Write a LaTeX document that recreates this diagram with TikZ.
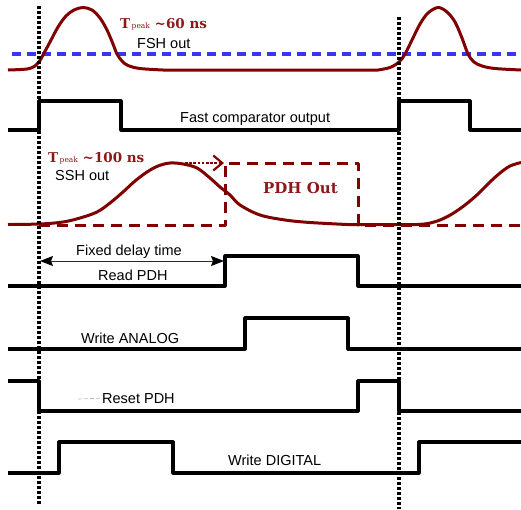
\documentclass[tikz,border=0pt]{standalone}
\usepackage{fontspec}
\setmainfont{Liberation Sans}
\newfontfamily\peakfont{DejaVu Serif}
\usepackage{xcolor}
\usetikzlibrary{arrows.meta}

\definecolor{pulsered}{RGB}{128,0,0}
\definecolor{labelred}{RGB}{140,25,25}
\definecolor{threshblue}{RGB}{55,55,240}

\newcommand{\tpeak}[1]{T\kern1.5pt{\mdseries\fontsize{7.5}{8}\selectfont peak}\ \textasciitilde#1 ns}

\begin{document}
\begin{tikzpicture}[x=1pt, y=-1pt,
  wave/.style={line width=3.1pt, line join=round},
  analog/.style={line width=3pt, pulsered, line join=round},
  marker/.style={line width=3.2pt, dash pattern=on 3pt off 2pt},
  lbl/.style={font=\fontsize{14.5}{16}\selectfont, inner sep=0pt, anchor=base west},
  tlbl/.style={font=\peakfont\bfseries\fontsize{13.5}{15}\selectfont, text=labelred, inner sep=0pt, anchor=base west}]

  \useasboundingbox (0,0) rectangle (521,509);

  % threshold of the fast shaper
  \draw[threshblue, line width=3.2pt, dash pattern=on 9pt off 6pt] (12,54) -- (521,54);

  % FSH out
  \draw[analog] plot[smooth, tension=0.55] coordinates {(8,70) (27,69) (35,66) (39,62) (43,55)
    (50,42) (58,27) (66,16) (74,10) (83,7.5) (92,10) (100,18) (107,30) (113,44) (117,54)
    (122,61) (128,65.5) (140,68.5) (163,70)}
    -- plot[smooth, tension=0.55] coordinates {(378,70) (390,67.5) (399,62) (405,54)
    (412,40) (420,24) (428,13) (438,7.5) (447,12) (455,22) (462,38) (468,54) (474,62)
    (482,66) (495,68.5) (521,70)};

  % fast comparator output
  \draw[wave] (8,130) -- (39,130) -- (39,101) -- (121,101) -- (121,130) -- (399,130)
    -- (399,101) -- (470,101) -- (470,130) -- (521,130);

  % SSH out and PDH out
  \draw[analog] plot[smooth, tension=0.55] coordinates {(8,224.5) (40,224) (63,222) (80,218)
    (97,212) (110,203) (123,192) (135,181) (147,172) (158,166) (170,163) (183,164)
    (197,168) (210,178) (220,187) (230,195) (240,205) (260,215) (285,220) (310,222.5)
    (347,224.5)}
    -- plot[smooth, tension=0.55] coordinates {(417,224.5) (428,223.5) (440,220) (452,214)
    (465,205) (478,194) (490,182) (500,173) (510,166) (521,162.5)};
  \draw[analog, dash pattern=on 11pt off 7pt] (39,225) -- (225,225) -- (225,163)
    -- (358,163) -- (358,225) -- (521,225);
  \coordinate (ssh top) at (185,163);
  \coordinate (pdh corner) at (224,163);
  \draw[pulsered, line width=2.8pt, dash pattern=on 2.6pt off 1.6pt,
    -{Straight Barb[length=9pt, width=15pt, line width=2.2pt]}] (ssh top) -- (pdh corner);

  % fixed delay
  \coordinate (delay start) at (40,261);
  \coordinate (delay end) at (224,261);
  \draw[pulsered, line width=1pt,
    {Stealth[black, length=13pt, width=10pt, inset=2pt]}-{Stealth[black, length=13pt, width=10pt, inset=2pt]}]
    (delay start) -- (delay end);

  % read PDH
  \draw[wave] (8,286) -- (225,286) -- (225,256) -- (358,256) -- (358,286) -- (521,286);

  % write ANALOG
  \draw[wave] (8,349) -- (245,349) -- (245,318) -- (348,318) -- (348,349) -- (521,349);

  % reset PDH
  \draw[wave] (8,381) -- (39,381) -- (39,411) -- (358,411) -- (358,381) -- (399,381)
    -- (399,411) -- (521,411);

  % write DIGITAL
  \draw[wave] (8,473) -- (59,473) -- (59,442) -- (173,442) -- (173,473) -- (419,473)
    -- (419,442) -- (521,442);

  % trigger markers
  \coordinate (trigA top) at (39,6);
  \coordinate (trigA bot) at (39,505);
  \coordinate (trigB top) at (399,17);
  \coordinate (trigB bot) at (399,509);
  \draw[marker] (trigA top) -- (trigA bot);
  \draw[marker] (trigB top) -- (trigB bot);

  % labels
  \node[tlbl] (fsh peak) at (120,28) {\tpeak{60}};
  \node[lbl] (fsh lbl) at (137,48) {FSH out};
  \node[lbl] (fast lbl) at (180,122) {Fast comparator output};
  \node[tlbl] (ssh peak) at (48,162) {\tpeak{100}};
  \node[lbl] (ssh lbl) at (55,180) {SSH out};
  \node[tlbl, font=\peakfont\bfseries\fontsize{15}{17}\selectfont] (pdh lbl) at (263,193) {PDH Out};
  \node[lbl] (delay lbl) at (76,255) {Fixed delay time};
  \node[lbl] (read lbl) at (98,280) {Read PDH};
  \node[lbl] (analog lbl) at (81,343) {Write ANALOG};
  \node[lbl] (reset lbl) at (102,403) {Reset PDH};
  \node[lbl] (digital lbl) at (228,465) {Write DIGITAL};

  \coordinate (reset dash) at (78,399);
  \draw[black!25, line width=0.7pt, dash pattern=on 4pt off 2pt] (reset dash) -- (reset lbl.west);
\end{tikzpicture}
\end{document}
